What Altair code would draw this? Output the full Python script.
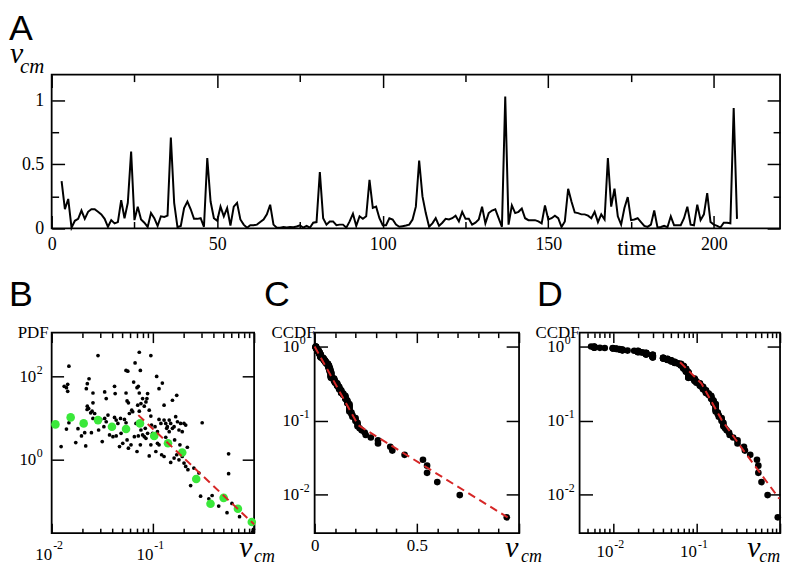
import altair as alt
import pandas as pd

# ---------------- data ----------------
# Panel A: centre-of-mass speed v_cm versus time
time_steps = list(range(3, 208))
v_cm = [
    0.37, 0.15, 0.23, 0.006, 0.06, 0.075, 0.14, 0.075, 0.13, 0.15,
    0.15, 0.13, 0.11, 0.075, 0.013, 0.065, 0.04, 0.05, 0.22, 0.08,
    0.2, 0.6, 0.065, 0.17, 0.07, 0.045, 0.012, 0.12, 0.08, 0.02,
    0.095, 0.09, 0.1, 0.71, 0.2, 0.01, 0.02, 0.16, 0.21, 0.15,
    0.075, 0.075, 0.08, 0.013, 0.55, 0.21, 0.08, 0.06, 0.17, 0.095,
    0.16, 0.022, 0.17, 0.2, 0.07, 0.03, 0.006, 0.025, 0.025, 0.03,
    0.05, 0.07, 0.11, 0.185, 0.03, 0.0055, 0.006, 0.011, 0.008, 0.012,
    0.01, 0.015, 0.025, 0.006, 0.02, 0.006, 0.045, 0.05, 0.44, 0.08,
    0.03, 0.055, 0.055, 0.025, 0.03, 0.03, 0.006, 0.055, 0.115, 0.02,
    0.095, 0.075, 0.095, 0.38, 0.16, 0.17, 0.08, 0.025, 0.025, 0.08,
    0.07, 0.03, 0.013, 0.018, 0.023, 0.03, 0.07, 0.17, 0.53, 0.25,
    0.12, 0.013, 0.04, 0.08, 0.02, 0.045, 0.075, 0.07, 0.08, 0.1,
    0.055, 0.13, 0.075, 0.075, 0.03, 0.045, 0.07, 0.17, 0.04, 0.12,
    0.14, 0.15, 0.08, 0.013, 1.03, 0.03, 0.18, 0.12, 0.13, 0.155,
    0.08, 0.065, 0.065, 0.065, 0.055, 0.04, 0.18, 0.07, 0.08, 0.1,
    0.08, 0.011, 0.055, 0.31, 0.21, 0.125, 0.12, 0.11, 0.11, 0.1,
    0.08, 0.13, 0.05, 0.11, 0.07, 0.55, 0.17, 0.31, 0.095, 0.03,
    0.16, 0.245, 0.065, 0.07, 0.08, 0.05, 0.02, 0.012, 0.03, 0.14,
    0.006, 0.011, 0.02, 0.01, 0.095, 0.025, 0.025, 0.025, 0.08, 0.17,
    0.03, 0.025, 0.185, 0.065, 0.11, 0.275, 0.05, 0.03, 0.02, 0.007,
    0.045, 0.045, 0.04, 0.94, 0.075,
]

# Panel B: PDF estimates (black dots)
pdf_v = [
    0.0148, 0.0133, 0.0144, 0.0140, 0.0144, 0.0124, 0.0140, 0.0148, 0.0173, 0.0182,
    0.0197, 0.0217, 0.0220, 0.0225, 0.0234, 0.0225, 0.0224, 0.0232, 0.0243, 0.0251,
    0.0266, 0.0256, 0.0256, 0.0247, 0.0256, 0.0287, 0.0291, 0.0316, 0.0334, 0.0346,
    0.0334, 0.0346, 0.0328, 0.036, 0.0373, 0.0418, 0.0424, 0.0418, 0.0434, 0.0451,
    0.0479, 0.0434, 0.0468, 0.0485, 0.0504, 0.0543, 0.0565, 0.0543, 0.0556, 0.0573,
    0.0524, 0.0543, 0.0556, 0.0573, 0.0608, 0.0632, 0.0586, 0.0618, 0.0646, 0.0667,
    0.0697, 0.0718, 0.0734, 0.0752, 0.0734, 0.0708, 0.0734, 0.0762, 0.0792, 0.0822,
    0.0854, 0.0887, 0.0873, 0.0681, 0.0697, 0.0718, 0.0762, 0.0792, 0.0822, 0.0854,
    0.0887, 0.0841, 0.0955, 0.092, 0.0955, 0.097, 0.0993, 0.0955, 0.092, 0.109,
    0.115, 0.124, 0.111, 0.115, 0.12, 0.129, 0.134, 0.137, 0.145, 0.107,
    0.111, 0.115, 0.122, 0.129, 0.129, 0.145, 0.139, 0.156, 0.172, 0.15,
    0.156, 0.162, 0.168, 0.175, 0.181, 0.188, 0.195, 0.203, 0.211, 0.15,
    0.162, 0.172, 0.181, 0.195, 0.203, 0.211, 0.219, 0.222, 0.254, 0.236,
    0.285, 0.307, 0.296, 0.357, 0.385, 0.56, 0.56, 0.447, 0.54, 0.604,
    0.718, 0.984, 0.97, 0.0212, 0.0305, 0.0403, 0.0656, 0.0752, 0.105, 0.134,
    0.148, 0.164, 0.185,
]
pdf_p = [
    176, 57.8, 64.5, 53.7, 44, 2.08, 5.47, 7.74, 2.59, 5.57,
    3.73, 2.15, 50.8, 66.8, 88, 19.3, 16.1, 17.0, 13.4, 14.7,
    12.9, 9.8, 23.2, 4.48, 40, 316, 5.18, 2.73, 42.4, 29.4,
    9.8, 8.18, 6.22, 11.8, 3.94, 57.8, 38.7, 10.4, 8.96, 7.46,
    9.8, 3.73, 2.08, 4.31, 2.49, 139, 134, 40, 25.9, 23.2,
    9.29, 7.74, 2.99, 1.9, 2.28, 14.2, 12.9, 15.5, 73.3, 211,
    53.7, 57.8, 40, 139, 380, 20.4, 14.7, 22.3, 29.4, 19.3,
    24.5, 38.7, 29.4, 7.46, 1.58, 3.73, 5.18, 3.94, 3.59, 3.28,
    4.31, 5.68, 316, 15.5, 11.2, 6.81, 4.31, 2.28, 1.24, 100,
    50.8, 69.3, 4.73, 9.29, 7.46, 8.96, 7.46, 5.68, 4.73, 1.58,
    2.49, 2.28, 1.32, 1.2, 20.4, 8.96, 6.22, 26.8, 35.3, 7.46,
    5.68, 6.22, 10.8, 8.18, 5.18, 7.46, 4.73, 7.46, 6.81, 0.865,
    1.1, 1.32, 1.0, 1.2, 0.833, 0.694, 2.0, 0.578, 0.634, 0.24,
    0.482, 7.74, 0.134, 0.116, 0.139, 1.39, 0.464, 0.0774, 0.0537, 0.0896,
    0.0431, 0.0215, 0.019, 4.48, 9.29, 3.59, 3.59, 2.28, 6.22, 3.47,
    2.49, 2.99, 2.28,
]
# Panel B: binned PDF (green) and power-law fit (red dashed)
bin_v = [0.0109, 0.0154, 0.0207, 0.0287, 0.0394, 0.0543, 0.0746, 0.103,
         0.141, 0.195, 0.268, 0.371, 0.5, 0.692, 0.949]
bin_p = [7.07, 10.4, 7.46, 8.96, 6.22, 5.47, 7.46, 3.73,
         2.49, 1.5, 0.347, 0.088, 0.122, 0.0669, 0.0322]
fitB_v = [0.0718, 1.0]
fitB_p = [11.8, 0.0283]
# Panel C / D fits (red dashed)
fitC_v = [0.0, 0.213, 0.944]
fitC_p = [1.0, 0.0865, 0.0049]
fitD_v = [0.0637, 0.115, 0.2, 0.37, 0.98]
fitD_p = [0.612, 0.315, 0.102, 0.0386, 0.00875]

# tick / label values
A_x_labels = [0, 50, 100, 150, 200]
A_x_ticks = [0, 25, 50, 75, 100, 125, 150, 175, 200]
A_y_labels = [0, 0.5, 1]
A_y_ticks = [0, 0.25, 0.5, 0.75, 1.0]
B_x_labels = [0.01, 0.1]
B_x_ticks = [0.01, 0.02, 0.03, 0.04, 0.05, 0.06, 0.07, 0.08, 0.09,
             0.1, 0.2, 0.3, 0.4, 0.5, 0.6, 0.7, 0.8, 0.9, 1.0]
B_y_labels = [1, 100]
C_x_labels = [0, 0.5]
C_x_ticks = [0, 0.1, 0.2, 0.3, 0.4, 0.5, 0.6, 0.7, 0.8, 0.9, 1.0]
CD_y_labels = [1, 0.1, 0.01]
D_x_labels = [0.01, 0.1]
D_x_ticks = [0.005, 0.006, 0.007, 0.008, 0.009] + B_x_ticks

# ---------------- helpers ----------------
SERIF = "Liberation Serif"
SANS = "Liberation Sans"
RED = "#d62626"
GREEN = "#3ae83a"
WA, HA = 734, 155
WB, WC, WD, HR = 204, 206, 202, 202

LOGTEST = "abs(log(datum.value)/LN10 - round(log(datum.value)/LN10)) < 0.001"
HALFTEST = "abs(datum.value*2 - round(datum.value*2)) < 0.001"


def lin(lo, hi):
    return alt.Scale(domain=[lo, hi], nice=False, zero=False)


def logs(lo, hi):
    return alt.Scale(type="log", domain=[lo, hi], nice=False)


def tick_axis(orient, offset, values, major, minor=None, test=None):
    size = major if test is None else {"condition": {"test": test, "value": major}, "value": minor}
    return alt.Axis(orient=orient, offset=offset, values=values, labels=False, domain=False,
                    grid=False, ticks=True, tickColor="black", tickWidth=1.5, tickSize=size,
                    title=None)


def label_axis(orient, values, expr, size, padding, align, baseline, shift=0):
    return alt.Axis(orient=orient, values=values, labelExpr=expr, labelFont=SERIF,
                    labelFontSize=size, labelColor="black", labelPadding=padding,
                    labelAlign=align, labelBaseline=baseline, labelOffset=shift,
                    labelFlush=False, labelOverlap=False, ticks=False, tickSize=0,
                    domain=False, grid=False, title=None)


def axis_layer(xs, ys, x0, y0, xaxis, yaxis):
    df = pd.DataFrame({"ax": [x0], "ay": [y0]})
    return alt.Chart(df).mark_point(opacity=0).encode(
        x=alt.X("ax:Q", scale=xs, axis=xaxis),
        y=alt.Y("ay:Q", scale=ys, axis=yaxis))


ONE = pd.DataFrame({"k": [0]})


def note(text, x, y, size, font=SERIF, italic=False, align="left"):
    kw = dict(text=text, font=font, fontSize=size, align=align, baseline="alphabetic",
              color="black")
    if italic:
        kw["fontStyle"] = "italic"
    return alt.Chart(ONE).mark_text(**kw).encode(x=alt.value(x), y=alt.value(y))


TEN = "'10'"
EXP = "'' + round(log(datum.value)/LN10)"
NUM = "datum.value + ''"

# ---------------- panel A ----------------
dfA = pd.DataFrame({"t": time_steps, "v": v_cm})
xsA, ysA = lin(0, 220), lin(0, 1.2)
lineA = alt.Chart(dfA).mark_line(color="black", strokeWidth=2).encode(
    x=alt.X("t:Q", scale=xsA, axis=None), y=alt.Y("v:Q", scale=ysA, axis=None))
tA = "datum.value % 50 === 0"
panelA = alt.layer(
    lineA,
    axis_layer(xsA, ysA, 100, 0.5,
               label_axis("bottom", A_x_labels, NUM, 18, 21, "center", "alphabetic"),
               label_axis("left", A_y_labels, NUM, 18, 8, "right", "middle")),
    axis_layer(xsA, ysA, 100, 0.5,
               tick_axis("top", -HA, A_x_ticks, 13, 7, tA),
               tick_axis("right", -WA, A_y_ticks, 13, 7, HALFTEST)),
    axis_layer(xsA, ysA, 100, 0.5,
               tick_axis("bottom", -HA, A_x_ticks, 13, 7, tA),
               tick_axis("left", -WA, A_y_ticks, 13, 7, HALFTEST)),
    note("A", -43, -34.5, 36, SANS),
    note("v", -42, -11.5, 30, italic=True),
    note("cm", -32, -1.5, 21, italic=True),
    note("time", 570, 181.5, 22),
).resolve_axis(x="independent", y="independent").properties(width=WA, height=HA)

# ---------------- panel B ----------------
xsB, ysB = logs(0.01, 1), logs(0.0174, 1122)
dotsB = alt.Chart(pd.DataFrame({"v": pdf_v, "p": pdf_p})).mark_circle(
    size=14, color="black", opacity=1).encode(
    x=alt.X("v:Q", scale=xsB, axis=None), y=alt.Y("p:Q", scale=ysB, axis=None))
binsB = alt.Chart(pd.DataFrame({"v": bin_v, "p": bin_p})).mark_circle(
    size=75, color=GREEN, opacity=1).encode(
    x=alt.X("v:Q", scale=xsB, axis=None), y=alt.Y("p:Q", scale=ysB, axis=None))
fitB = alt.Chart(pd.DataFrame({"v": fitB_v, "p": fitB_p})).mark_line(
    color=RED, strokeWidth=2, strokeDash=[8, 5]).encode(
    x=alt.X("v:Q", scale=xsB, axis=None), y=alt.Y("p:Q", scale=ysB, axis=None))
panelB = alt.layer(
    dotsB, binsB, fitB,
    axis_layer(xsB, ysB, 0.1, 1,
               label_axis("bottom", B_x_labels, TEN, 17, 26.5, "right", "alphabetic"),
               label_axis("left", B_y_labels, TEN, 17, 16, "right", "middle")),
    axis_layer(xsB, ysB, 0.1, 1,
               label_axis("bottom", B_x_labels, EXP, 12, 15.5, "left", "alphabetic", 1),
               label_axis("left", B_y_labels, EXP, 12, 15.5, "left", "middle", -7)),
    axis_layer(xsB, ysB, 0.1, 1,
               tick_axis("top", -HR, B_x_ticks, 10, 5, LOGTEST),
               tick_axis("right", -WB, B_y_labels, 12)),
    axis_layer(xsB, ysB, 0.1, 1,
               tick_axis("bottom", -HR, B_x_ticks, 10, 5, LOGTEST),
               tick_axis("left", -WB, B_y_labels, 12)),
    note("B", -43, -26.5, 36, SANS),
    note("PDF", -3, 5.5, 17, align="right"),
    note("v", 189, 226.5, 30, italic=True),
    note("cm", 204, 231.5, 18, italic=True),
).resolve_axis(x="independent", y="independent").properties(width=WB, height=HR)


# ---------------- panels C and D (CCDF of v_cm) ----------------
def ccdf_points(xs, ys):
    return alt.Chart(dfA).transform_filter("datum.v <= 1").transform_joinaggregate(
        n="count()").transform_window(
        rank="row_number()", sort=[alt.SortField("v", order="descending")]).transform_calculate(
        ccdf="datum.rank / datum.n").mark_circle(size=45, color="black", opacity=1).encode(
        x=alt.X("v:Q", scale=xs, axis=None), y=alt.Y("ccdf:Q", scale=ys, axis=None))


ysCD = logs(0.003, 1.54)
xsC = lin(0, 1)
fitC = alt.Chart(pd.DataFrame({"v": fitC_v, "p": fitC_p})).mark_line(
    color=RED, strokeWidth=2, strokeDash=[8, 5]).encode(
    x=alt.X("v:Q", scale=xsC, axis=None), y=alt.Y("p:Q", scale=ysCD, axis=None))
panelC = alt.layer(
    ccdf_points(xsC, ysCD), fitC,
    axis_layer(xsC, ysCD, 0.5, 0.1,
               label_axis("bottom", C_x_labels, NUM, 17, 18, "center", "alphabetic"),
               label_axis("left", CD_y_labels, TEN, 17, 16, "right", "middle")),
    axis_layer(xsC, ysCD, 0.5, 0.1, None,
               label_axis("left", CD_y_labels, EXP, 12, 15.5, "left", "middle", -7)),
    axis_layer(xsC, ysCD, 0.5, 0.1,
               tick_axis("top", -HR, C_x_ticks, 10, 5, HALFTEST),
               tick_axis("right", -WC, CD_y_labels, 13)),
    axis_layer(xsC, ysCD, 0.5, 0.1,
               tick_axis("bottom", -HR, C_x_ticks, 10, 5, HALFTEST),
               tick_axis("left", -WC, CD_y_labels, 13)),
    note("C", -51, -26.5, 36, SANS),
    note("CCDF", 1, 5.5, 17, align="right"),
    note("v", 192, 226.5, 30, italic=True),
    note("cm", 208, 231.5, 18, italic=True),
).resolve_axis(x="independent", y="independent").properties(width=WC, height=HR)

xsD = logs(0.004, 1)
fitD = alt.Chart(pd.DataFrame({"v": fitD_v, "p": fitD_p})).mark_line(
    color=RED, strokeWidth=2, strokeDash=[8, 5]).encode(
    x=alt.X("v:Q", scale=xsD, axis=None), y=alt.Y("p:Q", scale=ysCD, axis=None))
panelD = alt.layer(
    ccdf_points(xsD, ysCD), fitD,
    axis_layer(xsD, ysCD, 0.1, 0.1,
               label_axis("bottom", D_x_labels, TEN, 17, 24, "right", "alphabetic"),
               label_axis("left", CD_y_labels, TEN, 17, 16, "right", "middle")),
    axis_layer(xsD, ysCD, 0.1, 0.1,
               label_axis("bottom", D_x_labels, EXP, 12, 14, "left", "alphabetic", 1),
               label_axis("left", CD_y_labels, EXP, 12, 15.5, "left", "middle", -7)),
    axis_layer(xsD, ysCD, 0.1, 0.1,
               tick_axis("top", -HR, D_x_ticks, 10, 5, LOGTEST),
               tick_axis("right", -WD, CD_y_labels, 13)),
    axis_layer(xsD, ysCD, 0.1, 0.1,
               tick_axis("bottom", -HR, D_x_ticks, 10, 5, LOGTEST),
               tick_axis("left", -WD, CD_y_labels, 13)),
    note("D", -43, -26.5, 36, SANS),
    note("CCDF", 0, 5.5, 17, align="right"),
    note("v", 169, 226.5, 30, italic=True),
    note("cm", 181, 231.5, 18, italic=True),
).resolve_axis(x="independent", y="independent").properties(width=WD, height=HR)

row2 = alt.hconcat(panelB, panelC, panelD, spacing=61, bounds="flush")
chart = alt.vconcat(panelA, row2, spacing=105, bounds="flush").properties(
    padding=0).configure_view(stroke="black", strokeWidth=1.8).configure_axis(
    labelFont=SERIF)

chart.save("out.html", embed_options={"renderer": "svg", "actions": False})
